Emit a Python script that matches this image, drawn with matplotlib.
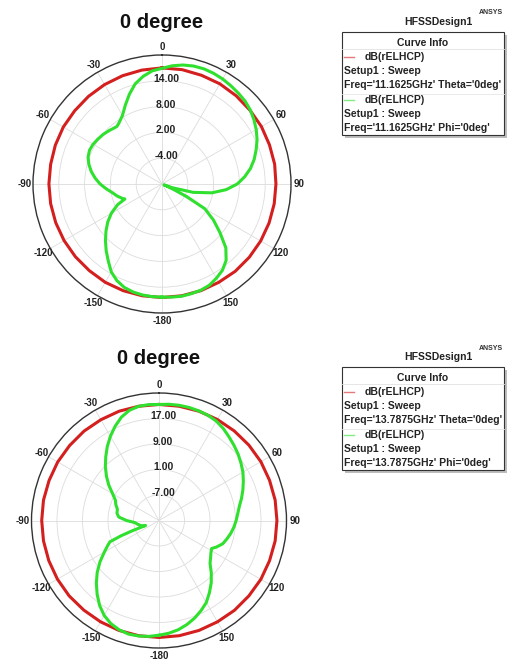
import numpy as np
import matplotlib
matplotlib.use('Agg')
import matplotlib.pyplot as plt
from matplotlib.patches import Rectangle
from matplotlib.ticker import FixedLocator

plt.rcParams['font.family'] = ['Liberation Sans', 'DejaVu Sans']
plt.rcParams['font.weight'] = 'bold'

W, H = 513, 670

angle_ticks = list(range(0, 360, 30))
angle_labels = ['0', '30', '60', '90', '120', '150',
                '-180', '-150', '-120', '-90', '-60', '-30']

# --- chart 1: 11.1625 GHz, scale -10..20 dB
top_rmin, top_rmax = -10, 20
top_rings = [-4, 2, 8, 14]
top_red_theta = list(range(0, 370, 10))
top_red_db = [17.0, 17.0, 16.9, 16.9, 16.8, 16.7, 16.7, 16.6, 16.6, 16.5,
              16.5, 16.5, 16.5, 16.5, 16.5, 16.4, 16.4, 16.4, 16.4, 16.4,
              16.4, 16.4, 16.3, 16.3, 16.3, 16.3, 16.3, 16.3, 16.3, 16.4,
              16.5, 16.5, 16.6, 16.7, 16.8, 16.9, 17.0]
top_green_theta = [-180, -175, -170, -165, -160, -155, -150, -145, -140, -135,
                   -130, -125, -120, -115, -112, -110, -105, -100, -95, -90,
                   -85, -80, -75, -70, -65, -60, -55, -50, -45, -40, -38, -35,
                   -30, -25, -20, -15, -10, -5, 0, 5, 10, 15, 20, 25, 30, 35,
                   40, 45, 50, 55, 60, 65, 70, 75, 80, 85, 90, 95, 100, 105,
                   110, 113, 115, 117, 120, 125, 130, 135, 140, 145, 150, 155,
                   160, 165, 170, 175, 180]
top_green_db = [16.3, 16.3, 16.2, 16.0, 15.6, 14.8, 13.6, 11.8, 10.2, 8.6,
                7.0, 5.4, 3.6, 1.4, -0.7, -0.2, 0.8, 1.7, 3.0, 4.4,
                5.6, 6.7, 7.6, 8.3, 8.6, 8.5, 8.2, 7.9, 7.5, 7.1, 7.0, 7.4,
                8.4, 10.2, 12.2, 14.1, 15.4, 16.4, 16.9, 17.6, 18.1, 18.4, 18.5, 18.4, 18.2, 17.9,
                17.6, 17.3, 16.8, 16.1, 15.3, 14.4, 13.3, 12.2, 10.9, 9.3, 7.5, 5.0, 1.8, -2.5,
                -7.5, -9.5, -7.0, -3.6, 1.5, 4.6, 7.6, 11.0, 13.2, 14.5, 15.3, 16.0,
                16.3, 16.4, 16.5, 16.4, 16.3]

# --- chart 2: 13.7875 GHz, scale -15..25 dB
bot_rmin, bot_rmax = -15, 25
bot_rings = [-7, 1, 9, 17]
bot_red_theta = list(range(0, 370, 10))
bot_red_db = [21.4, 21.4, 21.5, 21.6, 21.7, 21.8, 21.9, 21.9, 22.0, 22.0,
              22.0, 21.9, 21.9, 21.8, 21.8, 21.7, 21.7, 21.7, 21.7, 21.7,
              21.7, 21.7, 21.7, 21.8, 21.8, 21.8, 21.8, 21.8, 21.8, 21.7,
              21.7, 21.6, 21.6, 21.5, 21.5, 21.4, 21.4]
bot_green_theta = [-180, -175, -170, -165, -160, -155, -150, -145, -140, -135,
                   -130, -125, -120, -116, -113.5, -112, -111, -110.5, -108, -105,
                   -100, -95, -90, -85, -80, -75, -70, -65, -60, -55, -50, -45,
                   -40, -35, -30, -25, -20, -15, -10, -5, 0, 5, 10, 15, 20, 25,
                   30, 35, 40, 45, 50, 55, 60, 65, 70, 75, 80, 85, 90, 95, 100,
                   105, 110, 115, 118, 122, 126, 130, 135, 140, 145, 150, 155,
                   160, 165, 170, 175, 180]
bot_green_db = [21.0, 21.5, 21.8, 21.9, 21.5, 20.7, 19.4, 17.5, 15.2, 12.8,
                10.3, 7.6, 4.8, 2.9, 1.8, -2.0, -6.0, -10.5, -9.6, -9.0,
                -8.2, -7.4, -4.8, -2.3, -1.6, -1.5, -0.6, 0.1, 1.8, 4.2, 6.5, 8.8,
                11.0, 13.3, 15.5, 17.6, 19.5, 20.8, 21.4, 21.5, 21.4, 21.6, 21.7, 21.7, 21.6, 21.4,
                21.0, 20.2, 19.2, 18.3, 17.4, 16.4, 15.4, 14.2, 13.0, 11.8, 10.6, 9.8, 9.2, 8.6, 7.9,
                7.1, 6.3, 4.8, 3.7, 4.2, 5.0, 5.9, 8.2, 10.5, 12.6, 14.7, 16.2,
                17.6, 18.8, 19.8, 20.5, 21.0]

RED = '#d41f1f'
GREEN = '#2fe02f'


def draw_polar(ax, rmin, rmax, rings, red_t, red_db, grn_t, grn_db):
    ax.set_theta_zero_location('N')
    ax.set_theta_direction(-1)
    ax.set_ylim(rmin, rmax)
    ax.set_yticks(rings)
    ax.set_yticklabels([])
    ax.set_xticks(np.deg2rad(angle_ticks))
    ax.set_xticklabels(angle_labels, fontsize=7, fontweight='bold', color='#222222')
    ax.xaxis.set_minor_locator(FixedLocator(np.deg2rad(np.arange(0, 360, 5))))
    ax.tick_params(axis='x', which='minor', direction='in', length=3.5, width=0.8, color='#333333')
    ax.tick_params(axis='x', which='major', direction='inout', length=6, width=0.9,
                   color='#333333', pad=-4)
    ax.grid(color='#dcdcdc', lw=0.6)
    ax.spines['polar'].set_linewidth(1.0)
    ax.spines['polar'].set_color('#333333')
    ax.set_facecolor('white')

    ax.plot(np.deg2rad(red_t), red_db, color=RED, lw=2.2, zorder=3)
    ax.plot(np.deg2rad(grn_t), grn_db, color=GREEN, lw=2.2, zorder=4,
            solid_joinstyle='round')

    for r in rings:
        ax.annotate(f'{r:.2f}', xy=(0, r), xytext=(3, 1.5), textcoords='offset points',
                    ha='center', va='center', fontsize=7.5, fontweight='bold',
                    color='#222222', zorder=5)


fig = plt.figure(figsize=(W / 100, H / 100), dpi=100)
fig.patch.set_facecolor('white')

# polar boxes in pixels (left, top, size)
ax1 = fig.add_axes([33 / W, 1 - 313 / H, 258 / W, 258 / H], projection='polar')
draw_polar(ax1, top_rmin, top_rmax, top_rings, top_red_theta, top_red_db,
           top_green_theta, top_green_db)

ax2 = fig.add_axes([31.5 / W, 1 - 648 / H, 255 / W, 255 / H], projection='polar')
draw_polar(ax2, bot_rmin, bot_rmax, bot_rings, bot_red_theta, bot_red_db,
           bot_green_theta, bot_green_db)

# overlay for titles and curve info boxes, pixel coordinates
ov = fig.add_axes([0, 0, 1, 1], zorder=10)
ov.set_xlim(0, W)
ov.set_ylim(H, 0)
ov.axis('off')
ov.patch.set_alpha(0)

freqs = ["11.1625GHz", "13.7875GHz"]
titles_y = [22, 359]
title_x = [162, 159]
box_top = [32, 367]

for k in range(2):
    ov.text(title_x[k], titles_y[k], '0 degree', ha='center', va='center',
            fontsize=14.5, fontweight='bold', color='#111111')
    y0 = box_top[k]
    ov.text(438, y0 - 10, 'HFSSDesign1', ha='center', va='center',
            fontsize=7.5, fontweight='bold', color='#222222')
    ov.text(491, y0 - 19, 'ANSYS', ha='center', va='center',
            fontsize=5, fontweight='bold', color='#333333')
    # shadow + box
    ov.add_patch(Rectangle((345, y0 + 3), 162, 103, facecolor='#bdbdbd',
                           edgecolor='none', zorder=1))
    ov.add_patch(Rectangle((342, y0), 162, 103, facecolor='white',
                           edgecolor='#333333', lw=0.8, zorder=2))
    ov.text(423, y0 + 11, 'Curve Info', ha='center', va='center',
            fontsize=7.5, fontweight='bold', color='#222222', zorder=3)
    ov.plot([342, 504], [y0 + 16.5, y0 + 16.5], color='#e2e2e2', lw=0.6, zorder=3)
    ov.plot([342, 504], [y0 + 61.5, y0 + 61.5], color='#e6e6e6', lw=0.6, zorder=3)
    entries = [(RED, "Theta='0deg'", 25), (GREEN, "Phi='0deg'", 68)]
    for col, cut, dy in entries:
        yy = y0 + dy
        ov.plot([344, 354], [yy, yy], color=col, lw=1.0, alpha=0.6, zorder=3)
        ov.text(365, yy, 'dB(rELHCP)', ha='left', va='center', fontsize=7.5,
                fontweight='bold', color='#222222', zorder=3)
        ov.text(344, yy + 14, 'Setup1 : Sweep', ha='left', va='center', fontsize=7.5,
                fontweight='bold', color='#222222', zorder=3)
        ov.text(344, yy + 28, f"Freq='{freqs[k]}' {cut}", ha='left', va='center',
                fontsize=7.5, fontweight='bold', color='#222222', zorder=3)

fig.savefig('out.png', dpi=100, facecolor='white')
